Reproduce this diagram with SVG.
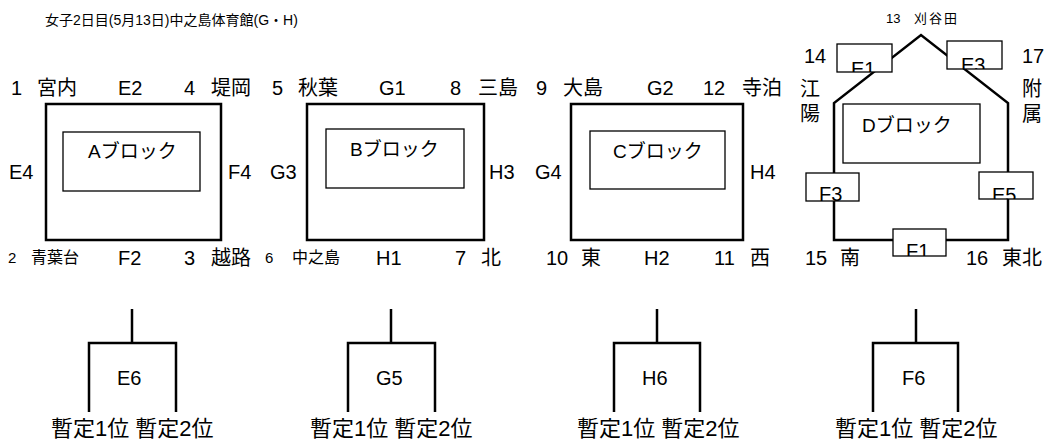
<svg xmlns="http://www.w3.org/2000/svg" width="1053" height="441" viewBox="0 0 1053 441">
<defs>
<style>
text{font-family:"Liberation Sans","Noto Sans CJK JP",sans-serif;fill:#000}
.t{font-size:20px}
.m{font-size:16px}
.sm{font-size:15px}
.xs{font-size:13px}
.ti{font-size:14px}
.r{font-size:22px}
.blk{font-size:19px}
.box{fill:none;stroke:#000;stroke-width:2.5}
.inner{fill:none;stroke:#000;stroke-width:1.3}
.ln{fill:none;stroke:#000;stroke-width:2.5}
.tag{fill:#fff;stroke:#000;stroke-width:1.3}
</style>
<clipPath id="cE1"><rect x="837" y="44" width="55" height="28"/></clipPath>
<clipPath id="cE3"><rect x="947" y="41" width="55" height="28"/></clipPath>
<clipPath id="cF3"><rect x="806" y="173" width="53" height="28"/></clipPath>
<clipPath id="cE5"><rect x="979" y="172" width="54" height="27"/></clipPath>
<clipPath id="cF1"><rect x="893" y="229" width="53" height="27"/></clipPath>
</defs>
<rect width="1053" height="441" fill="#fff"/>
<text x="45" y="25" class="ti">女子2日目(5月13日)中之島体育館(G・H)</text>

<g id="connectors">
<polyline class="ln" points="132,309 132,343"/>
<polyline class="ln" points="89,412 89,343 176,343 176,412"/>
<polyline class="ln" points="391,309 391,343"/>
<polyline class="ln" points="348,412 348,343 435,343 435,412"/>
<polyline class="ln" points="657,309 657,343"/>
<polyline class="ln" points="614,412 614,343 700,343 700,412"/>
<polyline class="ln" points="916,309 916,343"/>
<polyline class="ln" points="873,412 873,343 958,343 958,412"/>
</g>

<g id="blockA">
<rect class="box" x="46" y="104" width="175" height="136"/>
<rect class="inner" x="63" y="132" width="137" height="59"/>
<text x="88" y="158" class="blk">Aブロック</text>
<text x="11" y="95" class="t">1</text><text x="37" y="95" class="t">宮内</text>
<text x="118" y="95" class="t">E2</text>
<text x="184" y="95" class="t">4</text><text x="211" y="95" class="t">堤岡</text>
<text x="9" y="179" class="t">E4</text>
<text x="228" y="179" class="t">F4</text>
<text x="8" y="263" class="sm">2</text><text x="31" y="263" class="m">青葉台</text>
<text x="118" y="265" class="t">F2</text>
<text x="184" y="265" class="t">3</text><text x="211" y="265" class="t">越路</text>
</g>

<g id="blockB">
<rect class="box" x="307" y="104" width="177" height="136"/>
<rect class="inner" x="326" y="129" width="138" height="59"/>
<text x="350" y="156" class="blk">Bブロック</text>
<text x="272" y="95" class="t">5</text><text x="298" y="95" class="t">秋葉</text>
<text x="379" y="95" class="t">G1</text>
<text x="450" y="95" class="t">8</text><text x="478" y="95" class="t">三島</text>
<text x="270" y="179" class="t">G3</text>
<text x="489" y="179" class="t">H3</text>
<text x="265" y="263" class="sm">6</text><text x="292" y="263" class="m">中之島</text>
<text x="376" y="265" class="t">H1</text>
<text x="455" y="265" class="t">7</text><text x="481" y="265" class="t">北</text>
</g>

<g id="blockC">
<rect class="box" x="571" y="104" width="172" height="136"/>
<rect class="inner" x="590" y="131" width="135" height="58"/>
<text x="613" y="158" class="blk">Cブロック</text>
<text x="536" y="95" class="t">9</text><text x="563" y="95" class="t">大島</text>
<text x="647" y="95" class="t">G2</text>
<text x="703" y="95" class="t">12</text><text x="742" y="95" class="t">寺泊</text>
<text x="535" y="179" class="t">G4</text>
<text x="750" y="179" class="t">H4</text>
<text x="546" y="265" class="t">10</text><text x="581" y="265" class="t">東</text>
<text x="644" y="265" class="t">H2</text>
<text x="714" y="265" class="t">11</text><text x="750" y="265" class="t">西</text>
</g>

<g id="blockD">
<polygon class="ln" points="834,240 834,103 921,35 1008,103 1008,240"/>
<rect class="inner" x="843" y="104" width="137" height="59"/>
<text x="862" y="132" class="blk">Dブロック</text>
<rect class="tag" x="837" y="44" width="55" height="28"/>
<text x="851" y="76" class="t" clip-path="url(#cE1)">E1</text>
<rect class="tag" x="947" y="41" width="55" height="28"/>
<text x="961" y="72" class="t" clip-path="url(#cE3)">E3</text>
<rect class="tag" x="806" y="173" width="53" height="28"/>
<text x="819" y="201" class="t" clip-path="url(#cF3)">F3</text>
<rect class="tag" x="979" y="172" width="54" height="27"/>
<text x="992" y="202" class="t" clip-path="url(#cE5)">E5</text>
<rect class="tag" x="893" y="229" width="53" height="27"/>
<text x="906" y="258" class="t" clip-path="url(#cF1)">F1</text>
<text x="886" y="23" class="xs">13</text><text x="914" y="23" class="xs" letter-spacing="2">刈谷田</text>
<text x="804" y="63" class="t">14</text>
<text x="1022" y="63" class="t">17</text>
<text x="800" y="96" class="t">江</text><text x="800" y="121" class="t">陽</text>
<text x="1022" y="96" class="t">附</text><text x="1022" y="121" class="t">属</text>
<text x="805" y="265" class="t">15</text><text x="840" y="265" class="t">南</text>
<text x="966" y="265" class="t">16</text><text x="1002" y="265" class="t">東北</text>
</g>

<g id="resultE6">
<text x="117" y="385" class="t">E6</text>
<text x="51" y="436" class="r">暫定1位 暫定2位</text>
</g>
<g id="resultG5">
<text x="376" y="385" class="t">G5</text>
<text x="310" y="436" class="r">暫定1位 暫定2位</text>
</g>
<g id="resultH6">
<text x="642" y="385" class="t">H6</text>
<text x="577" y="436" class="r">暫定1位 暫定2位</text>
</g>
<g id="resultF6">
<text x="902" y="385" class="t">F6</text>
<text x="835" y="436" class="r">暫定1位 暫定2位</text>
</g>
</svg>
